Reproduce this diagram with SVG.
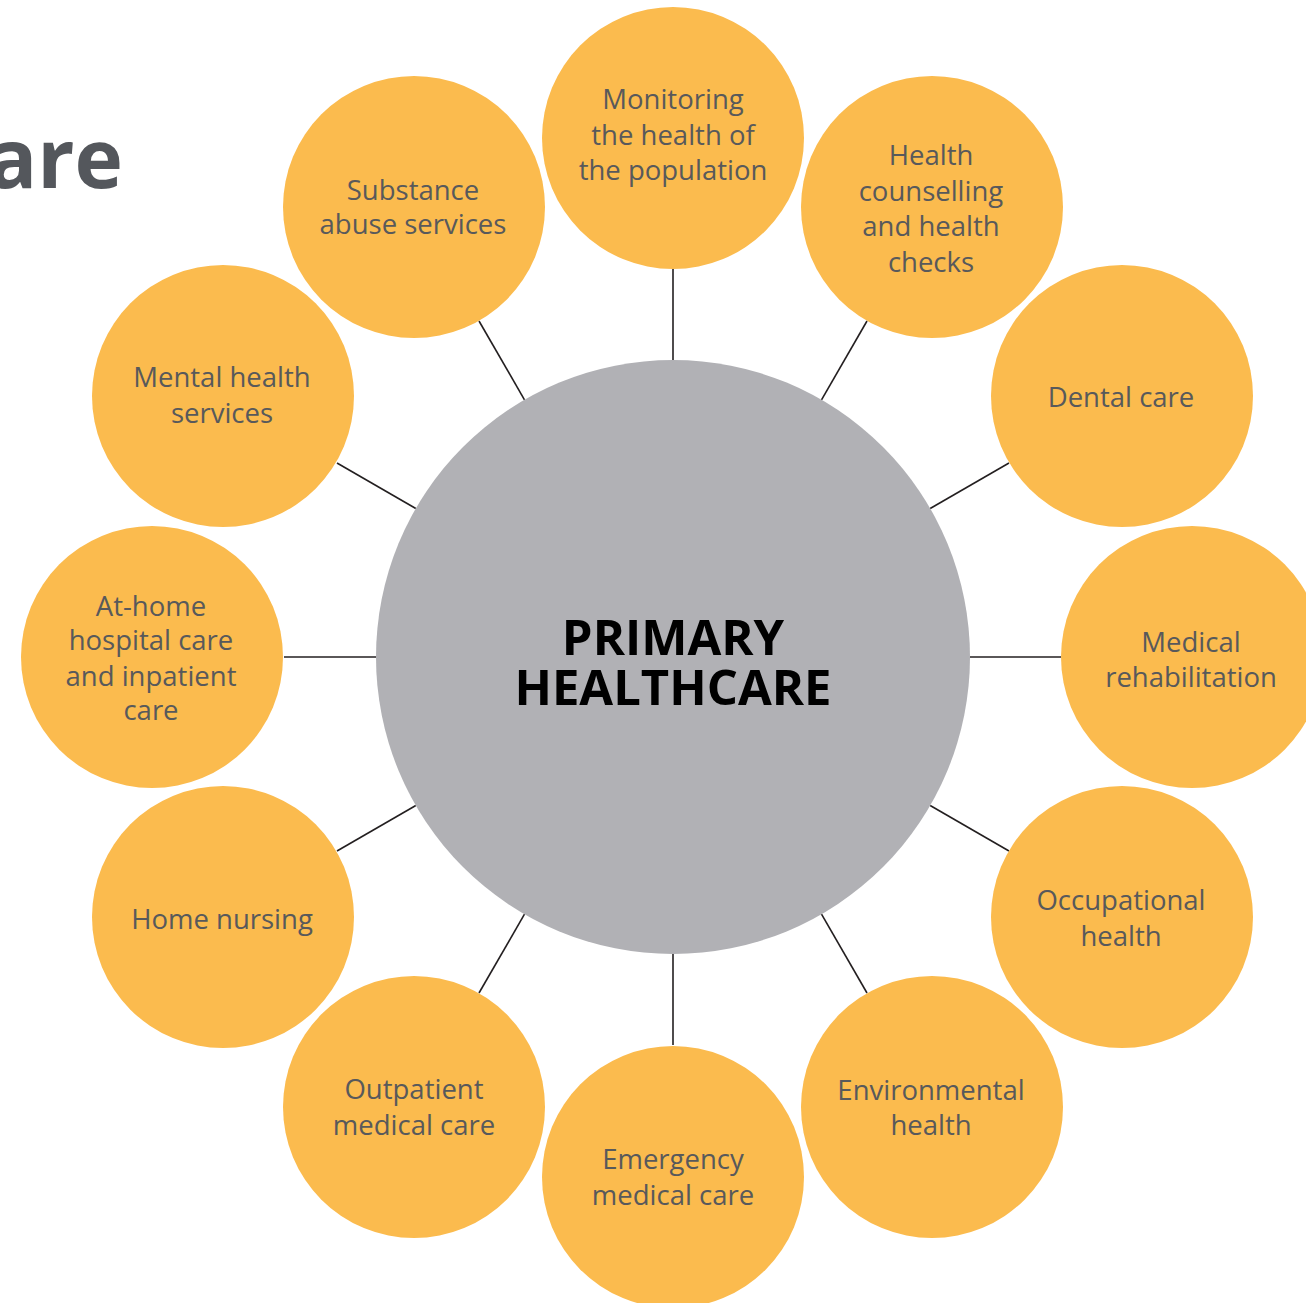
<svg xmlns="http://www.w3.org/2000/svg" width="1306" height="1303" viewBox="0 0 1306 1303">
  <style>
    .bubble { fill: #FBBB4E; }
    .hub { fill: #B1B1B5; }
    .label { font-family: "Open Sans", "Noto Sans", "Liberation Sans", sans-serif; font-size: 27.5px; fill: #58595B; text-anchor: middle; }
    .hub-label { font-family: "Open Sans", "Noto Sans", "Liberation Sans", sans-serif; font-weight: 700; font-size: 49px; fill: #000000; text-anchor: middle; }
    .title { font-family: "Open Sans", "Noto Sans", "Liberation Sans", sans-serif; font-weight: 700; font-size: 82px; fill: #54575C; text-anchor: end; }
    .spoke { stroke: #231F20; stroke-width: 1.6; fill: none; }
  </style>

  <rect width="1306" height="1303" fill="#FFFFFF"/>

  <!-- heading fragment, cut at the left edge -->
  <text class="title" x="123" y="188">are</text>

  <!-- spokes between hub and outer services -->
  <g id="connectors">
    <line class="spoke" x1="673" y1="360" x2="673" y2="269"/>
    <line class="spoke" x1="821.5" y1="399.8" x2="867" y2="321"/>
    <line class="spoke" x1="930.2" y1="508.5" x2="1009" y2="463"/>
    <line class="spoke" x1="970" y1="657" x2="1061" y2="657"/>
    <line class="spoke" x1="930.2" y1="805.5" x2="1009" y2="851"/>
    <line class="spoke" x1="821.5" y1="914.2" x2="867" y2="993"/>
    <line class="spoke" x1="673" y1="954" x2="673" y2="1045"/>
    <line class="spoke" x1="524.5" y1="914.2" x2="479" y2="993"/>
    <line class="spoke" x1="415.8" y1="805.5" x2="337" y2="851"/>
    <line class="spoke" x1="376" y1="657" x2="284" y2="657"/>
    <line class="spoke" x1="415.8" y1="508.5" x2="337" y2="463"/>
    <line class="spoke" x1="524.5" y1="399.8" x2="479" y2="321"/>
  </g>

  <!-- central hub -->
  <g id="primary-healthcare">
    <circle class="hub" cx="673" cy="657" r="297"/>
    <text class="hub-label" x="673" y="655">PRIMARY</text>
    <text class="hub-label" x="673" y="705">HEALTHCARE</text>
  </g>

  <g id="monitoring">
    <circle class="bubble" cx="673" cy="138" r="131"/>
    <text class="label" x="673" y="109">Monitoring</text>
    <text class="label" x="673" y="145">the health of</text>
    <text class="label" x="673" y="180">the population</text>
  </g>

  <g id="health-counselling">
    <circle class="bubble" cx="932" cy="207" r="131"/>
    <text class="label" x="931" y="165">Health</text>
    <text class="label" x="931" y="201">counselling</text>
    <text class="label" x="931" y="236">and health</text>
    <text class="label" x="931" y="272">checks</text>
  </g>

  <g id="dental-care">
    <circle class="bubble" cx="1122" cy="396" r="131"/>
    <text class="label" x="1121" y="407">Dental care</text>
  </g>

  <g id="medical-rehabilitation">
    <circle class="bubble" cx="1192" cy="657" r="131"/>
    <text class="label" x="1191" y="652">Medical</text>
    <text class="label" x="1191" y="687">rehabilitation</text>
  </g>

  <g id="occupational-health">
    <circle class="bubble" cx="1122" cy="917" r="131"/>
    <text class="label" x="1121" y="910">Occupational</text>
    <text class="label" x="1121" y="946">health</text>
  </g>

  <g id="environmental-health">
    <circle class="bubble" cx="932" cy="1107" r="131"/>
    <text class="label" x="931" y="1100">Environmental</text>
    <text class="label" x="931" y="1135">health</text>
  </g>

  <g id="emergency-medical-care">
    <circle class="bubble" cx="673" cy="1177" r="131"/>
    <text class="label" x="673" y="1169">Emergency</text>
    <text class="label" x="673" y="1205">medical care</text>
  </g>

  <g id="outpatient-medical-care">
    <circle class="bubble" cx="414" cy="1107" r="131"/>
    <text class="label" x="414" y="1099">Outpatient</text>
    <text class="label" x="414" y="1135">medical care</text>
  </g>

  <g id="home-nursing">
    <circle class="bubble" cx="223" cy="917" r="131"/>
    <text class="label" x="222" y="929">Home nursing</text>
  </g>

  <g id="at-home-hospital-care">
    <circle class="bubble" cx="152" cy="657" r="131"/>
    <text class="label" x="151" y="616">At-home</text>
    <text class="label" x="151" y="650">hospital care</text>
    <text class="label" x="151" y="686">and inpatient</text>
    <text class="label" x="151" y="720">care</text>
  </g>

  <g id="mental-health-services">
    <circle class="bubble" cx="223" cy="396" r="131"/>
    <text class="label" x="222" y="387">Mental health</text>
    <text class="label" x="222" y="423">services</text>
  </g>

  <g id="substance-abuse-services">
    <circle class="bubble" cx="414" cy="207" r="131"/>
    <text class="label" x="413" y="200">Substance</text>
    <text class="label" x="413" y="234">abuse services</text>
  </g>
</svg>
